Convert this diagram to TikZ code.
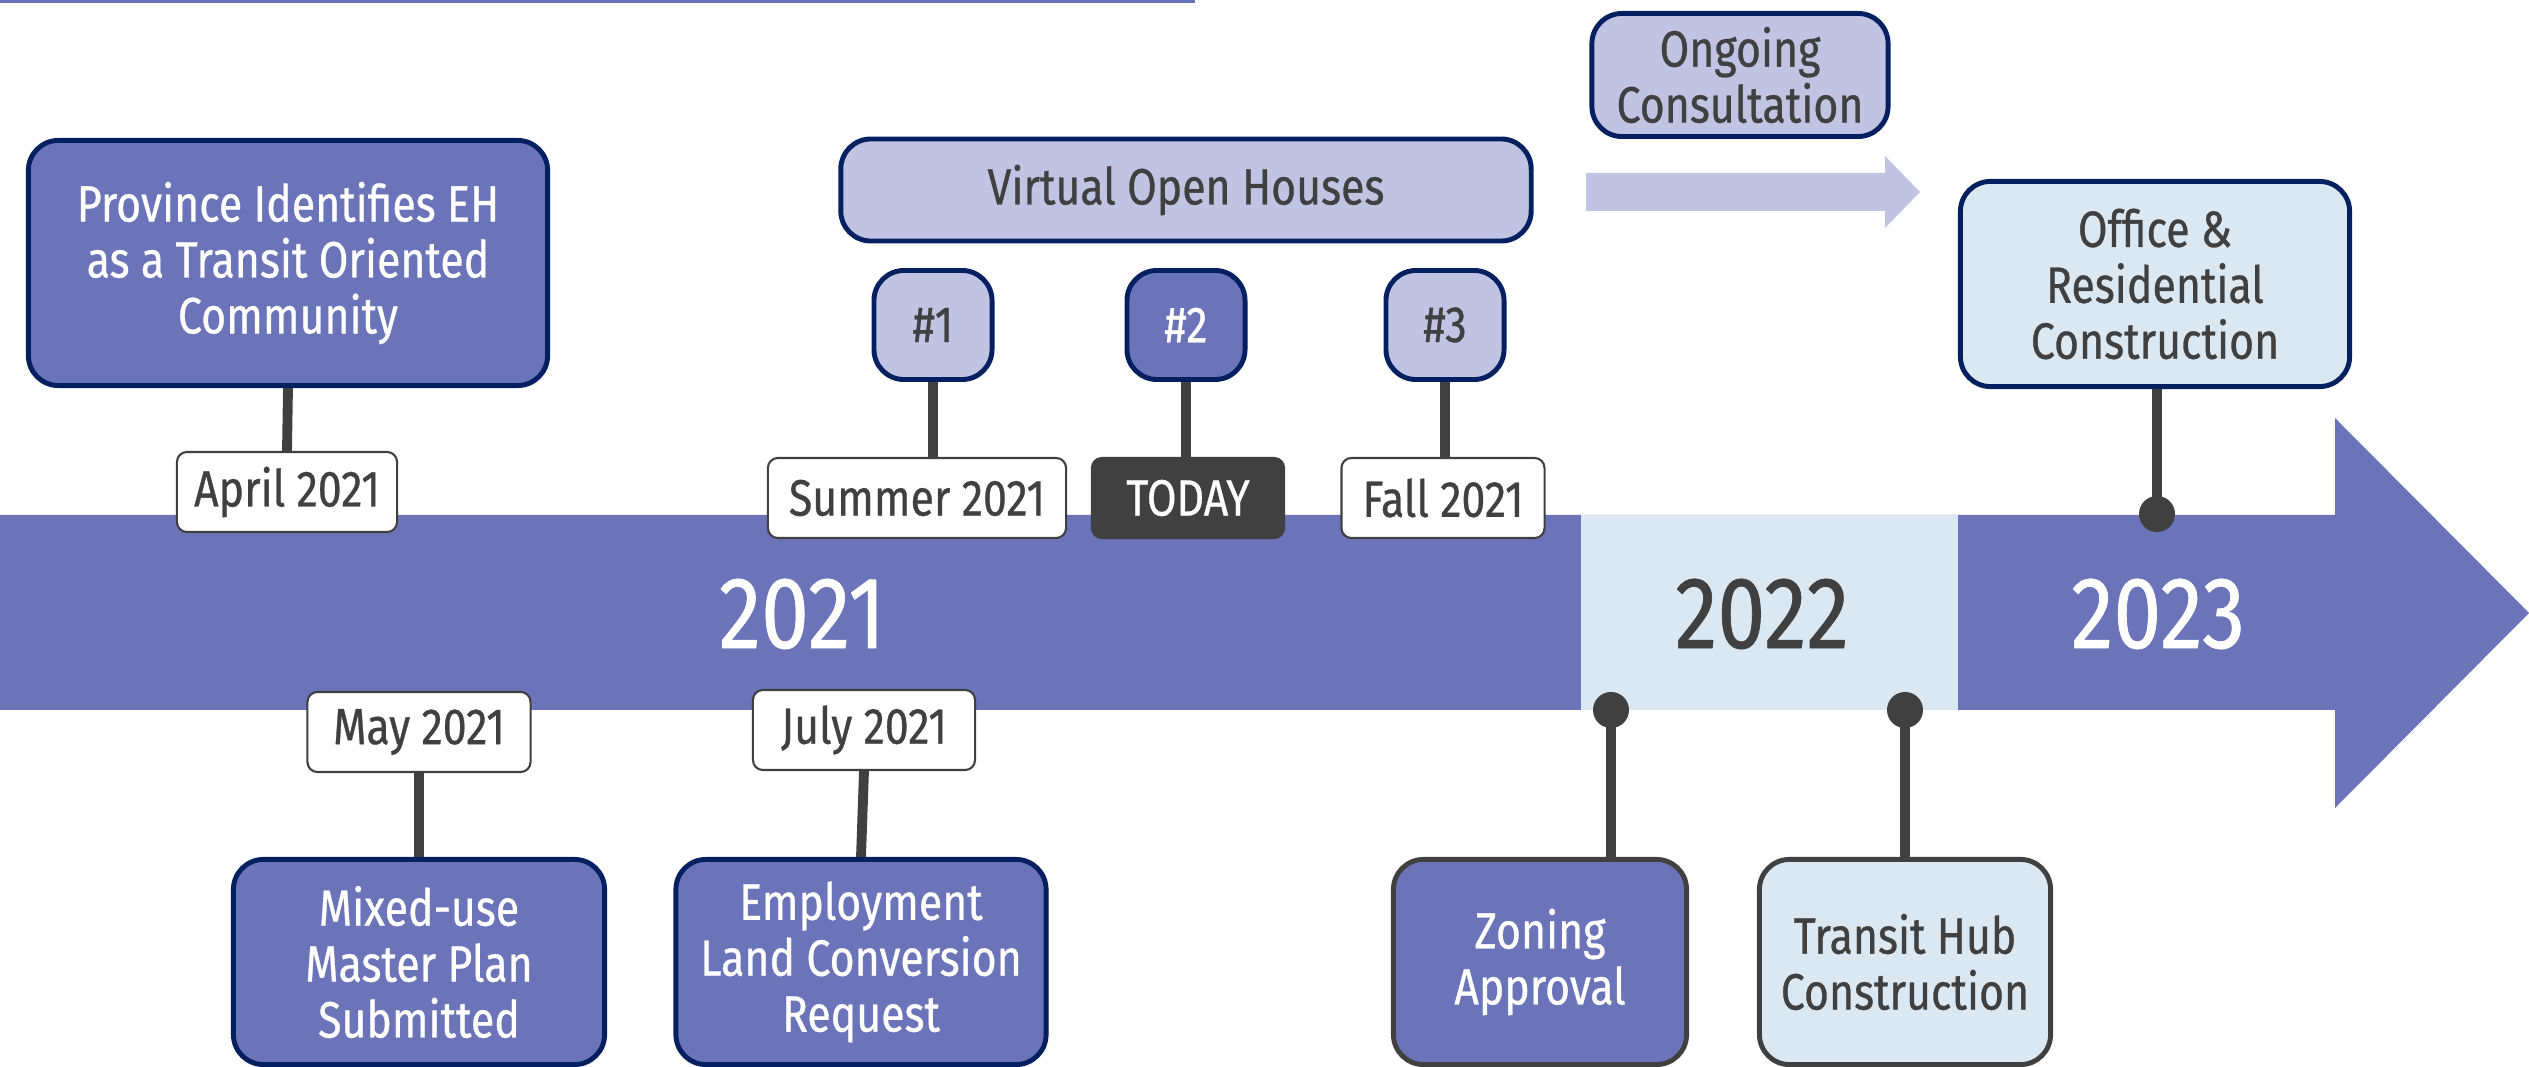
\documentclass[tikz,border=0pt]{standalone}
\usepackage{fontspec}
\setmainfont{Fira Sans}[FakeStretch=0.84, FakeBold=0.6]
\definecolor{bandblue}{RGB}{107,116,184}
\definecolor{lavender}{RGB}{192,195,225}
\definecolor{paleblue}{RGB}{219,232,242}
\definecolor{navy}{RGB}{4,32,96}
\definecolor{darkgray}{RGB}{64,64,64}

\begin{document}
\begin{tikzpicture}[x=0.01cm, y=-0.01cm, line join=round,
		font=\fontsize{14.5}{15.9}\selectfont,
		evt/.style={draw=navy, line width=1.4pt, fill=bandblue, text=white, rounded corners=0.3cm, align=center, inner sep=0pt},
		datebox/.style={draw=darkgray, line width=0.6pt, fill=white, text=darkgray, rounded corners=0.1cm, inner sep=0pt, minimum height=0.8cm},
		stem/.style={darkgray, line width=2.8pt},
		yr/.style={font=\fontsize{29}{32}\selectfont}]
	
	\useasboundingbox (0,0) rectangle (2529,1067);
	
	% ==========================================
	% 1. Dải thời gian và mũi tên lớn
	% ==========================================
	\fill[bandblue] (0,0) rectangle (1195,3);
	\fill[bandblue] (0,515) -- (2335,515) -- (2335,418) -- (2529,613) -- (2335,808) -- (2335,710) -- (0,710) -- cycle;
	\fill[paleblue] (1581,515) rectangle (1958,710);
	
	\node[yr, text=white] (y1) at (802,614) {2021};
	\node[yr, text=darkgray] (y2) at (1762,614) {2022};
	\node[yr, text=white] (y3) at (2158,614) {2023};
	
	% Mũi tên tham vấn (nhạt)
	\fill[lavender] (1586,173) -- (1885,173) -- (1885,156) -- (1920,192) -- (1885,228) -- (1885,211) -- (1586,211) -- cycle;
	
	% ==========================================
	% 2. Các sự kiện phía trên
	% ==========================================
	\node[evt, minimum width=5.19cm, minimum height=2.45cm] (prov) at (288,263) {Province Identifies EH\\as a Transit Oriented\\Community};
	\node[datebox, minimum width=2.2cm] (apr) at (287,492) {April 2021};
	
	\node[evt, fill=lavender, text=darkgray, minimum width=6.9cm, minimum height=1.02cm] (voh) at (1186,190) {Virtual Open Houses};
	\node[evt, fill=lavender, text=darkgray, minimum width=2.96cm, minimum height=1.23cm] (ongo) at (1740,75) {Ongoing\\Consultation};
	
	\foreach \i/\x/\c/\t in {1/933/lavender/darkgray, 2/1186/bandblue/white, 3/1445/lavender/darkgray} {
		\node[evt, fill=\c, text=\t, minimum width=1.18cm, minimum height=1.09cm] (h\i) at (\x,325) {\#\i};
	}
	\node[datebox, minimum width=2.98cm] (sum) at (917,498) {Summer 2021};
	\node[datebox, fill=darkgray, text=white, minimum width=1.92cm] (today) at (1188,498) {TODAY};
	\node[datebox, minimum width=2.03cm] (fall) at (1443,498) {Fall 2021};
	
	\node[evt, fill=paleblue, text=darkgray, minimum width=3.89cm, minimum height=2.05cm] (off) at (2155,284) {Office \&\\Residential\\Construction};
	
	% ==========================================
	% 3. Các sự kiện phía dưới
	% ==========================================
	\node[datebox, minimum width=2.23cm] (may) at (419,732) {May 2021};
	\node[datebox, minimum width=2.22cm] (jul) at (864,730) {July 2021};
	\node[evt, minimum width=3.71cm, minimum height=2.05cm] (mix) at (419,962) {Mixed-use\\Master Plan\\Submitted};
	\node[evt, minimum width=3.7cm, minimum height=2.05cm] (emp) at (861,962) {Employment\\Land Conversion\\Request};
	\node[evt, draw=darkgray, minimum width=2.93cm, minimum height=2.05cm] (zon) at (1540,962) {Zoning\\Approval};
	\node[evt, draw=darkgray, fill=paleblue, text=darkgray, minimum width=2.91cm, minimum height=2.05cm] (hub) at (1905,962) {Transit Hub\\Construction};
	
	% Các chấm mốc trên dải
	\coordinate (dZon) at (1611,710);
	\coordinate (dHub) at (1905,710);
	\coordinate (dOff) at (2157,514);
	
	% ==========================================
	% 4. Các thanh nối
	% ==========================================
	\draw[stem] (prov.south) -- (apr.north);
	\draw[stem] (may.south) -- (mix.north);
	\draw[stem] (jul.south) -- (emp.north);
	\foreach \i/\d in {1/sum, 2/today, 3/fall} {
		\draw[stem] (h\i.south) -- (h\i.south |- \d.north);
	}
	\draw[stem] (dZon) -- (dZon |- zon.north);
	\draw[stem] (dHub) -- (hub.north);
	\draw[stem] (dOff |- off.south) -- (dOff);
	
	\foreach \d in {dZon, dHub, dOff} {
		\fill[darkgray] (\d) circle (0.18cm);
	}
\end{tikzpicture}
\end{document}
